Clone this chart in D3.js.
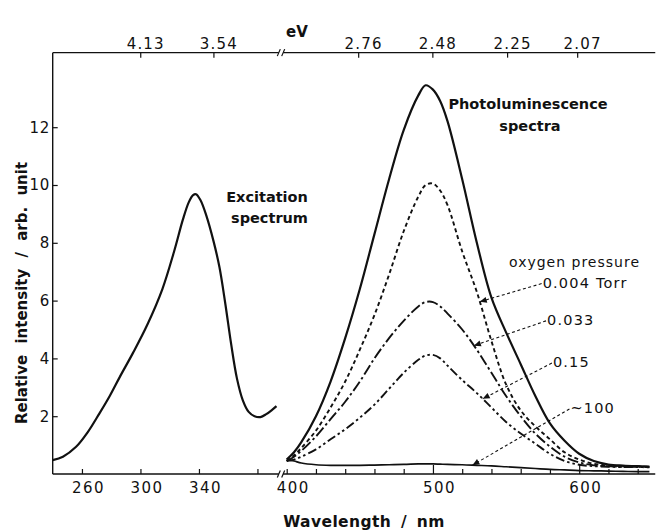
<!DOCTYPE html>
<html><head><meta charset="utf-8">
<script src="https://cdn.jsdelivr.net/npm/d3@7"></script>
<style>body{margin:0;background:#fff}svg{display:block}</style>
</head><body>
<svg id="c" width="656" height="531"></svg>
<script>
// ---------- data ----------
const excNm  = [240,247,256,264,272,279,286,295,305,315,323,329,333,336,338,341,345,350,354,358,362,366,370,374,378,382,386,390,393];
const excVal = [0.48,0.6,0.94,1.45,2.1,2.7,3.37,4.2,5.2,6.4,7.7,8.8,9.4,9.65,9.68,9.48,8.95,8.05,7.16,5.9,4.5,3.3,2.55,2.15,2.0,1.97,2.07,2.22,2.35];

const plNm      = [400,405,410,420,430,440,450,460,470,480,490,495,500,505,510,520,530,540,550,560,570,580,590,600,610,620,630,640,648];
const plVacuum  = [0.5,0.75,1.1,2.0,3.2,4.7,6.4,8.3,10.2,11.9,13.1,13.45,13.3,12.9,12.2,10.2,8.0,6.1,4.9,3.8,2.7,1.75,1.15,0.7,0.45,0.33,0.29,0.27,0.26];
const pl0004    = [0.45,0.65,0.9,1.5,2.3,3.2,4.3,5.5,6.9,8.4,9.6,10.0,10.05,9.8,9.3,7.7,6.3,4.6,3.1,2.2,1.65,1.2,0.75,0.5,0.35,0.3,0.27,0.26,0.25];
const pl0033    = [0.45,0.6,0.8,1.3,1.9,2.5,3.2,4.0,4.7,5.3,5.8,5.95,5.95,5.8,5.55,5.0,4.3,3.5,2.7,2.0,1.4,0.95,0.6,0.4,0.3,0.27,0.25,0.25,0.24];
const pl015     = [0.45,0.5,0.6,0.85,1.2,1.55,1.95,2.4,2.95,3.5,3.95,4.1,4.12,4.0,3.75,3.25,2.8,2.3,1.8,1.4,1.05,0.7,0.45,0.32,0.27,0.25,0.24,0.24,0.23];
const pl100     = [0.5,0.45,0.38,0.32,0.3,0.3,0.3,0.31,0.32,0.33,0.35,0.35,0.35,0.34,0.33,0.32,0.3,0.28,0.25,0.22,0.19,0.16,0.14,0.12,0.11,0.1,0.09,0.08,0.08];

const yTicks = [2,4,6,8,10,12];
const bottomTicks = [260,300,340,380,400,420,440,460,480,500,520,540,560,580,600,620,640];
const bottomLabels = [260,300,340,400,500,600];
const majorTicks = [500,600];
const eVTicks = ["4.13","3.54","2.76","2.48","2.25","2.07"];

const annoText  = ["0.004 Torr","0.033","0.15","~100"];
const annoLabNm = [575,578,582,594];
const annoLabV  = [6.45,5.16,3.70,2.11];
const annoTgtNm = [532,528,534,527];
const annoSeries = [pl0004, pl0033, pl015, pl100];

// ---------- scales ----------
const x = d3.scaleLinear().domain([240, 652]).range([52.7, 52.7 + 412 * 1.4625]);
const y = d3.scaleLinear().domain([0, 14.58]).range([474, 474 - 14.58 * 28.9]);

const svg = d3.select("#c");
const FONT = "DejaVu Sans, sans-serif";
const ink = "#111";

// ---------- axes ----------
const yTop = y(14.58), yBot = y(0);
const brk = [394.6, 397.6];
svg.append("line").attr("x1", x(240)).attr("x2", x(240)).attr("y1", yTop).attr("y2", yBot)
  .attr("stroke", ink).attr("stroke-width", 1.4);
[yBot, yTop].forEach(yy => {
  svg.append("line").attr("x1", x(240)).attr("x2", x(brk[0])).attr("y1", yy).attr("y2", yy)
    .attr("stroke", ink).attr("stroke-width", 1.4);
  svg.append("line").attr("x1", x(brk[1])).attr("x2", x(652)).attr("y1", yy).attr("y2", yy)
    .attr("stroke", ink).attr("stroke-width", 1.4);
  [brk[0], brk[1]].forEach(b => {
    svg.append("line").attr("x1", x(b) - 1.5).attr("x2", x(b) + 1.5)
      .attr("y1", yy + 3.5).attr("y2", yy - 3.5).attr("stroke", ink).attr("stroke-width", 1.2);
  });
});

const gB = svg.append("g").attr("transform", `translate(0,${yBot})`)
  .call(d3.axisBottom(x).tickValues(bottomTicks).tickSize(-5).tickPadding(8.4)
    .tickFormat(d => bottomLabels.includes(d) ? d : ""));
gB.select(".domain").remove();
gB.selectAll(".tick line").attr("stroke", ink).attr("stroke-width", 1.2)
  .attr("y2", d => majorTicks.includes(d) ? -9 : -5);
gB.selectAll(".tick text").attr("font-family", FONT).attr("font-size", 15)
  .attr("letter-spacing", 1.5).attr("fill", ink).attr("dx", 6);

const gL = svg.append("g").attr("transform", `translate(${x(240)},0)`)
  .call(d3.axisLeft(y).tickValues(yTicks).tickSize(-5).tickPadding(3));
gL.select(".domain").remove();
gL.selectAll(".tick line").attr("stroke", ink).attr("stroke-width", 1.2);
gL.selectAll(".tick text").attr("font-family", FONT).attr("font-size", 15)
  .attr("fill", ink).attr("letter-spacing", 0.5);

const gT = svg.append("g");
const evX = e => x(1239.84 / (+e));
gT.selectAll("line").data(eVTicks).join("line")
  .attr("x1", evX).attr("x2", evX).attr("y1", yTop).attr("y2", yTop + 5)
  .attr("stroke", ink).attr("stroke-width", 1.2);
gT.selectAll("text").data(eVTicks).join("text")
  .attr("x", d => evX(d) + 5).attr("y", yTop - 3.5).attr("text-anchor", "middle")
  .attr("font-family", FONT).attr("font-size", 15).attr("letter-spacing", 1.2).attr("fill", ink)
  .text(d => d);
svg.append("text").attr("x", 297).attr("y", 37).attr("text-anchor", "middle")
  .attr("font-family", FONT).attr("font-size", 15).attr("font-weight", "bold").attr("fill", ink).text("eV");

svg.append("text").attr("transform", `translate(27,${293}) rotate(-90)`).attr("text-anchor", "middle")
  .attr("font-family", FONT).attr("font-size", 15).attr("font-weight", "bold").attr("word-spacing", 6)
  .attr("fill", ink).text("Relative intensity / arb. unit");
svg.append("text").attr("x", 364).attr("y", 527).attr("text-anchor", "middle")
  .attr("font-family", FONT).attr("font-size", 15.5).attr("font-weight", "bold").attr("word-spacing", 4)
  .attr("letter-spacing", 0.4).attr("fill", ink).text("Wavelength / nm");

// ---------- curves ----------
const line = d3.line().x(d => x(d[0])).y(d => y(d[1])).curve(d3.curveCatmullRom.alpha(0.5));
const zip = (a, b) => a.map((v, i) => [v, b[i]]);

svg.append("path").attr("d", line(zip(excNm, excVal))).attr("fill", "none")
  .attr("stroke", ink).attr("stroke-width", 2.2);

const series = [
  {v: plVacuum, dash: null, w: 2.2},
  {v: pl0004, dash: "4,3", w: 1.9},
  {v: pl0033, dash: "11,3,2.5,3", w: 1.9},
  {v: pl015, dash: "9,3,2.5,3,2.5,3", w: 1.9},
  {v: pl100, dash: null, w: 1.7}
];
series.forEach(s => {
  svg.append("path").attr("d", line(zip(plNm, s.v))).attr("fill", "none")
    .attr("stroke", ink).attr("stroke-width", s.w).attr("stroke-dasharray", s.dash);
});

// ---------- annotations ----------
const bold = (t, cx, cy) => svg.append("text").attr("x", cx).attr("y", cy).attr("text-anchor", "middle")
  .attr("font-family", FONT).attr("font-size", 14.5).attr("font-weight", "bold").attr("fill", ink).text(t);
bold("Excitation", 267, 202);
bold("spectrum", 269.5, 223);
bold("Photoluminescence", 528, 109);
bold("spectra", 530, 131);
svg.append("text").attr("x", 640).attr("y", 267).attr("text-anchor", "end")
  .attr("font-family", FONT).attr("font-size", 14).attr("letter-spacing", 1).attr("fill", ink).text("oxygen pressure");

const interp = (arr, nm) => {
  const i = d3.bisectLeft(plNm, nm);
  const t = (nm - plNm[i - 1]) / (plNm[i] - plNm[i - 1]);
  return arr[i - 1] + t * (arr[i] - arr[i - 1]);
};
annoText.forEach((t, i) => {
  const lx = x(annoLabNm[i]), ly = y(annoLabV[i]);
  svg.append("text").attr("x", lx).attr("y", ly).attr("font-family", FONT).attr("font-size", 14.5)
    .attr("letter-spacing", 1.2).attr("fill", ink).text(t);
  const tx = x(annoTgtNm[i]), ty = y(interp(annoSeries[i], annoTgtNm[i]));
  const sx = lx - 1, sy = ly - 4;
  svg.append("line").attr("x1", sx).attr("y1", sy).attr("x2", tx).attr("y2", ty)
    .attr("stroke", ink).attr("stroke-width", 1.1).attr("stroke-dasharray", "3,2.5");
  const ang = Math.atan2(ty - sy, tx - sx);
  const L = 7, W = 3;
  const bx = tx - L * Math.cos(ang), by = ty - L * Math.sin(ang);
  const px = -Math.sin(ang) * W, py = Math.cos(ang) * W;
  svg.append("path").attr("d", `M${tx},${ty}L${bx + px},${by + py}L${bx - px},${by - py}Z`).attr("fill", ink);
});
</script>
</body></html>
